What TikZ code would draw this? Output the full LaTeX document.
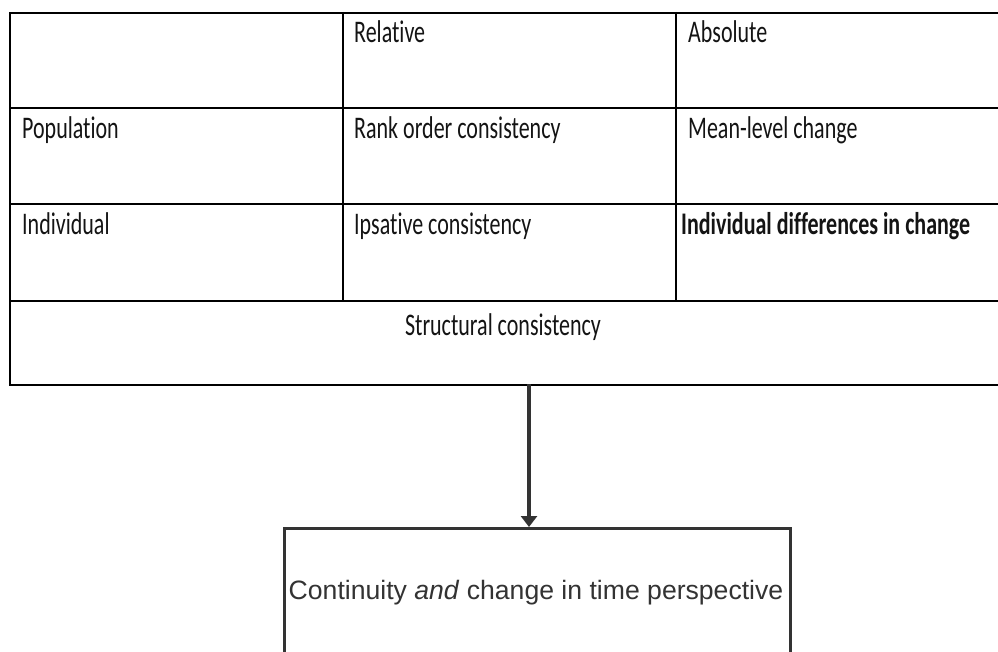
\documentclass[tikz,border=0pt]{standalone}
\usepackage{fontspec}
\setmainfont{Carlito}[Ligatures=NoCommon]
\newfontfamily\arialfont{Liberation Sans}
\usetikzlibrary{arrows.meta}
\definecolor{inkgray}{HTML}{333333}
\definecolor{textdark}{HTML}{141414}
% Table text is set condensed: taller than wide
\newcommand{\tallText}[1]{\scalebox{1}[1.43]{#1}}
\tikzset{
  tablerule/.style={line width=2.3pt, draw=black},
  celltext/.style={anchor=base west, inner sep=0pt, text=textdark,
    font=\fontsize{22}{26}\selectfont},
  centertext/.style={celltext, anchor=base},
  framebox/.style={draw=inkgray, line width=3pt, inner sep=0pt},
  flowarrow/.style={draw=inkgray, line width=3.5pt,
    -{Triangle[width=16pt,length=11pt]}},
}
\begin{document}
\begin{tikzpicture}[x=1pt,y=-1pt]
  \useasboundingbox[fill=white] (0,0) rectangle (998,652);

  % outer frame of the table (runs past the right edge)
  \node[tablerule, draw, inner sep=0pt, anchor=north west,
        minimum width=1001pt, minimum height=372pt] (tbl) at (9,12) {};
  % row rules
  \draw[tablerule] (9,108) -- (1010,108);
  \draw[tablerule] (9,204) -- (1010,204);
  \draw[tablerule] (9,301) -- (1010,301);
  % column rules
  \draw[tablerule] (343,12) -- (343,301);
  \draw[tablerule] (676,12) -- (676,301);

  % header row
  \node[celltext] (hrel) at (354,43) {\tallText{Relative}};
  \node[celltext] (habs) at (688,43) {\tallText{Absolute}};
  % population row
  \node[celltext] (pop) at (22,139) {\tallText{Population}};
  \node[celltext] (rank) at (354,139) {\tallText{Rank order consistency}};
  \node[celltext] (mean) at (688,139) {\tallText{Mean-level change}};
  % individual row
  \node[celltext] (ind) at (22,235) {\tallText{Individual}};
  \node[celltext] (ips) at (354,235) {\tallText{Ipsative consistency}};
  \node[celltext] (idc) at (681,235) {\tallText{\bfseries Individual differences in change}};
  % spanning row
  \node[centertext] (struct) at (503,335) {\tallText{Structural consistency}};

  % lower box (continues below the page)
  \node[framebox, anchor=north west, minimum width=506pt,
        minimum height=180pt] (box) at (283,527) {};
  \node[anchor=base, inner sep=0pt, text=inkgray,
        font=\arialfont\fontsize{26.6}{30}\selectfont] (cap) at (536,599)
        {Continuity \textit{and} change in time perspective};

  % connector from the table down to the box
  \coordinate (arrtop) at (529,384);
  \draw[flowarrow] (arrtop) -- (arrtop |- box.north);
\end{tikzpicture}
\end{document}
